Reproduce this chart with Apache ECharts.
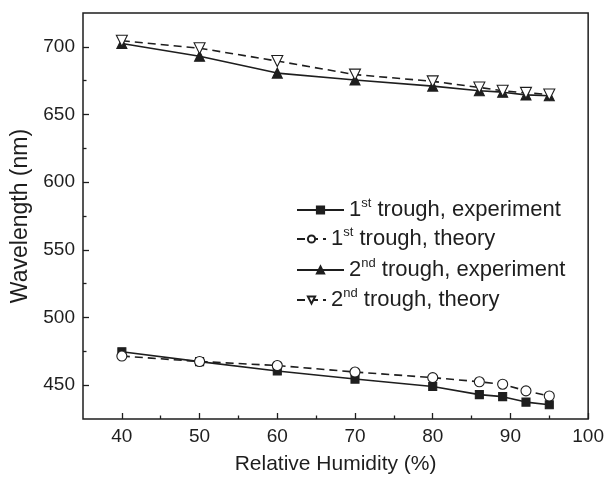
<!DOCTYPE html>
<html>
<head>
<meta charset="utf-8">
<script src="https://cdn.jsdelivr.net/npm/echarts@6/dist/echarts.min.js"></script>
<style>
  html, body { margin: 0; padding: 0; background: #fff; }
  #box { width: 607px; height: 480px; }
</style>
</head>
<body>
<div id="box"></div>
<script>
var chart = echarts.init(document.getElementById('box'));

// relative humidity (%)
var rh = [40, 50, 60, 70, 80, 86, 89, 92, 95];
// wavelength (nm)
var exp1 = [474.7, 467.4, 460.5, 454.5, 449, 443, 441.5, 437.5, 435.5];
var theo1 = [471.5, 467.5, 464.5, 459.7, 455.6, 452.5, 450.7, 445.8, 442];
var exp2 = [702.5, 693, 680.6, 675.5, 671, 667.5, 666.5, 664.5, 663.8];
var theo2 = [704.5, 699, 689.5, 679.5, 674.5, 670, 667.5, 666, 664.8];

var names = ['1st trough, experiment', '1st trough, theory', '2nd trough, experiment', '2nd trough, theory'];

var xMajor = [40, 50, 60, 70, 80, 90, 100];
var xMinor = [45, 55, 65, 75, 85, 95];
var yMajor = [450, 500, 550, 600, 650, 700];
var yMinor = [475, 525, 575, 625, 675];

var font = 'Liberation Sans, Arial, Helvetica, sans-serif';
var ink = '#1e1e1e';

function pairs(xs, ys) {
  return xs.map(function(x, i) { return [x, ys[i]]; });
}

function legendAt(name, left, top, w) {
  return {
    data: [name],
    left: left,
    top: top,
    itemWidth: w,
    itemHeight: 9,
    itemGap: 0,
    padding: 0,
    formatter: function(n) {
      return n.replace(/^(\d)(st|nd)/, '{n|$1}{s|$2}');
    },
    textStyle: {
      fontFamily: font,
      fontSize: 22,
      color: ink,
      lineHeight: 26,
      rich: {
        n: { fontFamily: font, fontSize: 22, color: ink, lineHeight: 26 },
        s: { fontFamily: font, fontSize: 13, color: ink, lineHeight: 13, verticalAlign: 'top' }
      }
    }
  };
}

function line(name, data, dashed, symbol, filled, size, rotate) {
  return {
    name: name,
    type: 'line',
    data: data,
    symbol: symbol,
    symbolSize: size,
    symbolRotate: rotate || 0,
    showAllSymbol: true,
    lineStyle: { color: ink, width: 1.6, type: dashed ? [8, 5] : 'solid' },
    itemStyle: { color: filled ? ink : '#fff', borderColor: ink, borderWidth: 1.1 },
    z: filled ? 3 : 4,
    animation: false
  };
}

chart.setOption({
  animation: false,
  grid: {
    left: 83, right: 18, top: 13, bottom: 55,
    show: true,
    borderColor: ink,
    borderWidth: 1.5
  },
  legend: [
    legendAt(names[0], 296, 197, 47),
    legendAt(names[1], 296, 226, 29),
    legendAt(names[2], 296, 257, 47),
    legendAt(names[3], 296, 287, 29)
  ],
  xAxis: [{
    type: 'value',
    min: 35, max: 100,
    name: 'Relative Humidity (%)',
    nameLocation: 'middle',
    nameGap: 35,
    nameTextStyle: { fontFamily: font, fontSize: 21, color: ink },
    axisLine: { show: false },
    splitLine: { show: false },
    axisTick: { show: true, inside: true, length: 6, customValues: xMajor, lineStyle: { color: ink, width: 1.3 } },
    axisLabel: { customValues: xMajor, margin: 8, fontFamily: font, fontSize: 19, color: ink }
  }, {
    type: 'value',
    min: 35, max: 100,
    position: 'bottom',
    axisLine: { show: false },
    splitLine: { show: false },
    axisLabel: { show: false },
    axisTick: { show: true, inside: true, length: 3.5, customValues: xMinor, lineStyle: { color: ink, width: 1.3 } }
  }],
  yAxis: [{
    type: 'value',
    min: 425, max: 725,
    name: 'Wavelength (nm)',
    nameLocation: 'middle',
    nameGap: 50,
    nameTextStyle: { fontFamily: font, fontSize: 23, color: ink },
    axisLine: { show: false },
    splitLine: { show: false },
    axisTick: { show: true, inside: true, length: 6, customValues: yMajor, lineStyle: { color: ink, width: 1.3 } },
    axisLabel: { customValues: yMajor, margin: 8, fontFamily: font, fontSize: 19, color: ink }
  }, {
    type: 'value',
    min: 425, max: 725,
    position: 'left',
    axisLine: { show: false },
    splitLine: { show: false },
    axisLabel: { show: false },
    axisTick: { show: true, inside: true, length: 3.5, customValues: yMinor, lineStyle: { color: ink, width: 1.3 } }
  }],
  series: [
    line(names[0], pairs(rh, exp1), false, 'rect', true, 8),
    line(names[1], pairs(rh, theo1), true, 'circle', false, 10),
    line(names[2], pairs(rh, exp2), false, 'triangle', true, 10),
    line(names[3], pairs(rh, theo2), true, 'triangle', false, 11, 180)
  ]
});
</script>
</body>
</html>
